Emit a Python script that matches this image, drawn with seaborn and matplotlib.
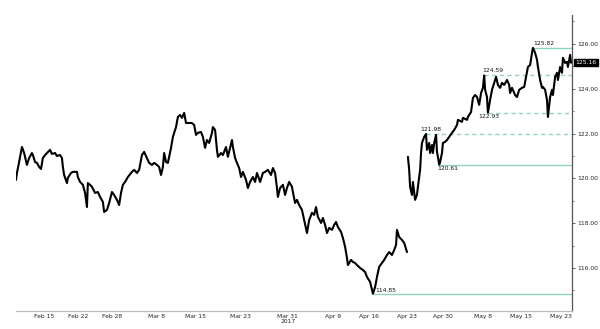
import numpy as np
import pandas as pd
import matplotlib
matplotlib.use("Agg")
import matplotlib.pyplot as plt
import seaborn as sns

# ---- data (hourly trading index, price) ----
seg1_hours = [0, 3, 10, 19, 26, 35, 42, 51, 54, 61, 67, 74, 80, 86, 93, 99, 109, 115, 125, 131,
              141, 147, 150, 154, 163, 166, 176, 182, 195, 198, 205, 214, 221, 227, 230, 237, 243,
              253, 262, 269, 278, 282, 291, 298, 307, 314, 323, 330, 336, 342, 349, 358, 371, 378,
              387, 394, 403, 410, 419, 426, 435, 442, 451, 458, 464, 470, 474, 480, 486, 496, 502,
              512, 518, 525, 531, 538, 544, 550, 563, 570, 576, 582, 592, 598, 605, 611, 618, 627,
              630, 637, 643, 646, 656, 662, 672, 678, 685, 691, 694, 701, 707, 714, 720, 726, 736,
              742, 749, 758, 765, 771, 781, 790, 797, 806, 816, 822, 829, 835, 838, 845, 854, 861,
              867, 874, 883, 886, 893, 899, 906, 915, 922, 931, 938, 947, 954, 960, 966, 976, 982,
              989, 995, 1002, 1011, 1018, 1024, 1030, 1040, 1046, 1053, 1059, 1062, 1072, 1078,
              1085, 1091, 1101, 1110, 1117, 1123, 1133, 1139, 1142, 1149, 1155, 1162, 1171, 1178,
              1187, 1194, 1203, 1210, 1216, 1219, 1226, 1235, 1242, 1251]
seg1_prices = [119.93, 120.24, 120.73, 121.40, 121.13, 120.60, 120.91, 121.13, 121.04, 120.73,
               120.69, 120.51, 120.42, 120.91, 121.04, 121.13, 121.27, 121.09, 121.13, 121.00,
               121.04, 120.91, 120.51, 120.15, 119.79, 120.02, 120.24, 120.29, 120.29, 120.06,
               119.84, 119.71, 119.35, 118.72, 119.79, 119.71, 119.62, 119.35, 119.39, 119.17,
               118.95, 118.50, 118.59, 118.90, 119.39, 119.26, 119.04, 118.81, 119.35, 119.71,
               119.84, 120.06, 120.29, 120.38, 120.24, 120.38, 121.04, 121.18, 120.91, 120.69,
               120.60, 120.69, 120.60, 120.51, 120.15, 120.51, 121.13, 120.73, 120.69, 121.36,
               121.85, 122.29, 122.74, 122.83, 122.70, 122.92, 122.47, 122.47, 122.47, 122.38,
               121.94, 122.03, 122.07, 121.85, 121.36, 121.71, 121.58, 122.03, 122.29, 122.16,
               121.27, 120.96, 121.13, 121.04, 121.40, 120.96, 121.36, 121.71, 121.40, 120.91,
               120.69, 120.46, 120.06, 120.29, 119.93, 119.57, 119.84, 120.06, 119.84, 120.24,
               119.84, 120.24, 120.29, 120.38, 120.15, 120.46, 120.24, 119.57, 119.17, 119.57,
               119.71, 119.26, 119.57, 119.84, 119.62, 119.39, 118.90, 119.04, 118.81, 118.59,
               118.14, 117.56, 118.14, 118.46, 118.37, 118.72, 118.28, 118.01, 118.23, 117.92,
               117.56, 117.79, 117.70, 117.92, 118.05, 117.83, 117.61, 117.34, 116.94, 116.45,
               116.13, 116.36, 116.27, 116.22, 116.13, 116.00, 115.91, 115.82, 115.60, 115.38,
               115.02, 114.85, 115.15, 115.60, 116.05, 116.22, 116.36, 116.58, 116.71, 116.58,
               116.80, 117.03, 117.70, 117.38, 117.25, 117.12, 116.71]

seg2_hours = [1254, 1258, 1261, 1267, 1270, 1277, 1283, 1286, 1293, 1296, 1299, 1306, 1312, 1315,
              1322, 1325, 1331, 1334, 1338, 1344, 1347, 1350, 1354, 1357, 1363, 1366, 1373, 1379,
              1386, 1395, 1402, 1411, 1414, 1427, 1430, 1443, 1446, 1456, 1462, 1469, 1475, 1482,
              1488, 1494, 1498, 1501, 1507, 1510, 1517, 1523, 1530, 1536, 1542, 1549, 1555, 1562,
              1571, 1578, 1581, 1587, 1597, 1603, 1610, 1619, 1626, 1632, 1638, 1645, 1651, 1654,
              1661, 1667, 1670, 1677, 1683, 1686, 1693, 1699, 1702, 1709, 1715, 1718, 1725, 1731,
              1734, 1741, 1747, 1750, 1757, 1763, 1766, 1773, 1776]
seg2_prices = [120.96, 120.38, 119.62, 119.26, 119.84, 119.04, 119.26, 119.62, 120.38, 121.13,
               121.58, 121.85, 121.98, 121.27, 121.58, 121.13, 121.49, 121.13, 121.58, 121.94,
               121.18, 120.96, 120.61, 120.73, 121.13, 121.58, 121.63, 121.71, 121.85, 122.03,
               122.16, 122.38, 122.61, 122.52, 122.70, 122.61, 122.74, 122.96, 123.59, 123.72,
               123.63, 123.28, 123.81, 124.04, 124.59, 123.95, 123.63, 122.93, 123.50, 123.95,
               124.26, 124.53, 124.17, 124.04, 124.26, 124.17, 124.39, 124.17, 123.81, 124.04,
               123.72, 123.63, 123.95, 124.04, 124.08, 124.53, 124.97, 125.06, 125.60, 125.82,
               125.60, 125.29, 124.97, 124.39, 124.04, 124.08, 123.95, 123.50, 122.74, 123.63,
               123.95, 123.72, 124.53, 124.71, 124.39, 124.97, 124.71, 125.38, 125.15, 125.20,
               124.97, 125.51, 125.16]

# reference levels (price, start hour, style)
level_prices = [125.82, 124.59, 122.93, 121.98, 120.61, 114.85]
level_start = [1654, 1498, 1510, 1312, 1354, 1142]
level_dashed = [False, True, True, True, False, False]
level_labels = ["125.82", "124.59", "122.93", "121.98", "120.61", "114.85"]

tick_hours = [90, 198, 307, 451, 573, 717, 870, 1014, 1130, 1251, 1366, 1494, 1616, 1744]
tick_labels = ["Feb 15", "Feb 22", "Feb 28", "Mar 8", "Mar 15", "Mar 23", "Mar 31\n2017",
               "Apr 9", "Apr 16", "Apr 23", "Apr 30", "May 8", "May 15", "May 23"]
y_ticks = [116, 118, 120, 122, 124, 126]
last_price = 125.16

df = pd.concat([
    pd.DataFrame({"hour": seg1_hours, "price": seg1_prices, "seg": 1}),
    pd.DataFrame({"hour": seg2_hours, "price": seg2_prices, "seg": 2}),
])

sns.set_style("white")
plt.rcParams["font.family"] = ["DejaVu Sans"]

fig = plt.figure(figsize=(6, 3.29), dpi=100)
ax = fig.add_axes([16 / 600, 18 / 329, 556 / 600, 296 / 329])

xmax = 1779
ymin, ymax = 114.08, 127.29

teal = "#8fd4c0"
for p, s, d in zip(level_prices, level_start, level_dashed):
    ax.hlines(p, s, xmax, colors=teal, linestyles=(0, (3, 2.5)) if d else "solid",
              linewidth=1.0, zorder=1)

sns.lineplot(data=df, x="hour", y="price", units="seg", estimator=None,
             color="black", linewidth=1.5, ax=ax, zorder=3)

fs = 4.3
lab_cfg = {
    "125.82": dict(offset=(0, 1.5), ha="left", va="bottom"),
    "124.59": dict(offset=(-1, 1.5), ha="left", va="bottom"),
    "122.93": dict(offset=(-7, -1), ha="left", va="top"),
    "121.98": dict(offset=(-4, 1.5), ha="left", va="bottom"),
    "120.61": dict(offset=(-1, -1), ha="left", va="top"),
    "114.85": dict(offset=(2, 0.5), ha="left", va="bottom"),
}
for p, s, lab in zip(level_prices, level_start, level_labels):
    c = lab_cfg[lab]
    ax.annotate(lab, xy=(s, p), xytext=c["offset"], textcoords="offset points",
                ha=c["ha"], va=c["va"], fontsize=fs, color="#111111", zorder=4)

ax.set_xlim(0, xmax)
ax.set_ylim(ymin, ymax)
ax.set_xlabel("")
ax.set_ylabel("")

ax.set_xticks(tick_hours)
ax.set_xticklabels(tick_labels, fontsize=fs, color="#222222", linespacing=0.9)
ax.set_xticks(np.arange(19, xmax, 24), minor=True)
ax.tick_params(axis="x", which="major", length=0, pad=2.5)
ax.tick_params(axis="x", which="minor", length=1.8, width=0.5, color="#444444", direction="out")

ax.yaxis.tick_right()
ax.set_yticks(y_ticks)
ax.set_yticklabels([f"{v:.2f}" for v in y_ticks], fontsize=fs, color="#222222")
ax.set_yticks(np.arange(115, 127.5, 1.0), minor=True)
ax.tick_params(axis="y", which="major", length=2, width=0.6, color="#444444", pad=1.5, direction="out")
ax.tick_params(axis="y", which="minor", length=1.5, width=0.5, color="#444444", direction="out")

for side in ["left", "top"]:
    ax.spines[side].set_visible(False)
ax.spines["right"].set_color("#555555")
ax.spines["right"].set_linewidth(0.9)
ax.spines["bottom"].set_color("#bbbbbb")
ax.spines["bottom"].set_linewidth(0.9)

ax.annotate(f"{last_price:.2f}", xy=(1, last_price), xycoords=("axes fraction", "data"),
            xytext=(2.5, 0), textcoords="offset points", ha="left", va="center",
            fontsize=fs, color="white",
            bbox=dict(boxstyle="square,pad=0.2", fc="black", ec="black"))

fig.savefig("out.png", dpi=100)
